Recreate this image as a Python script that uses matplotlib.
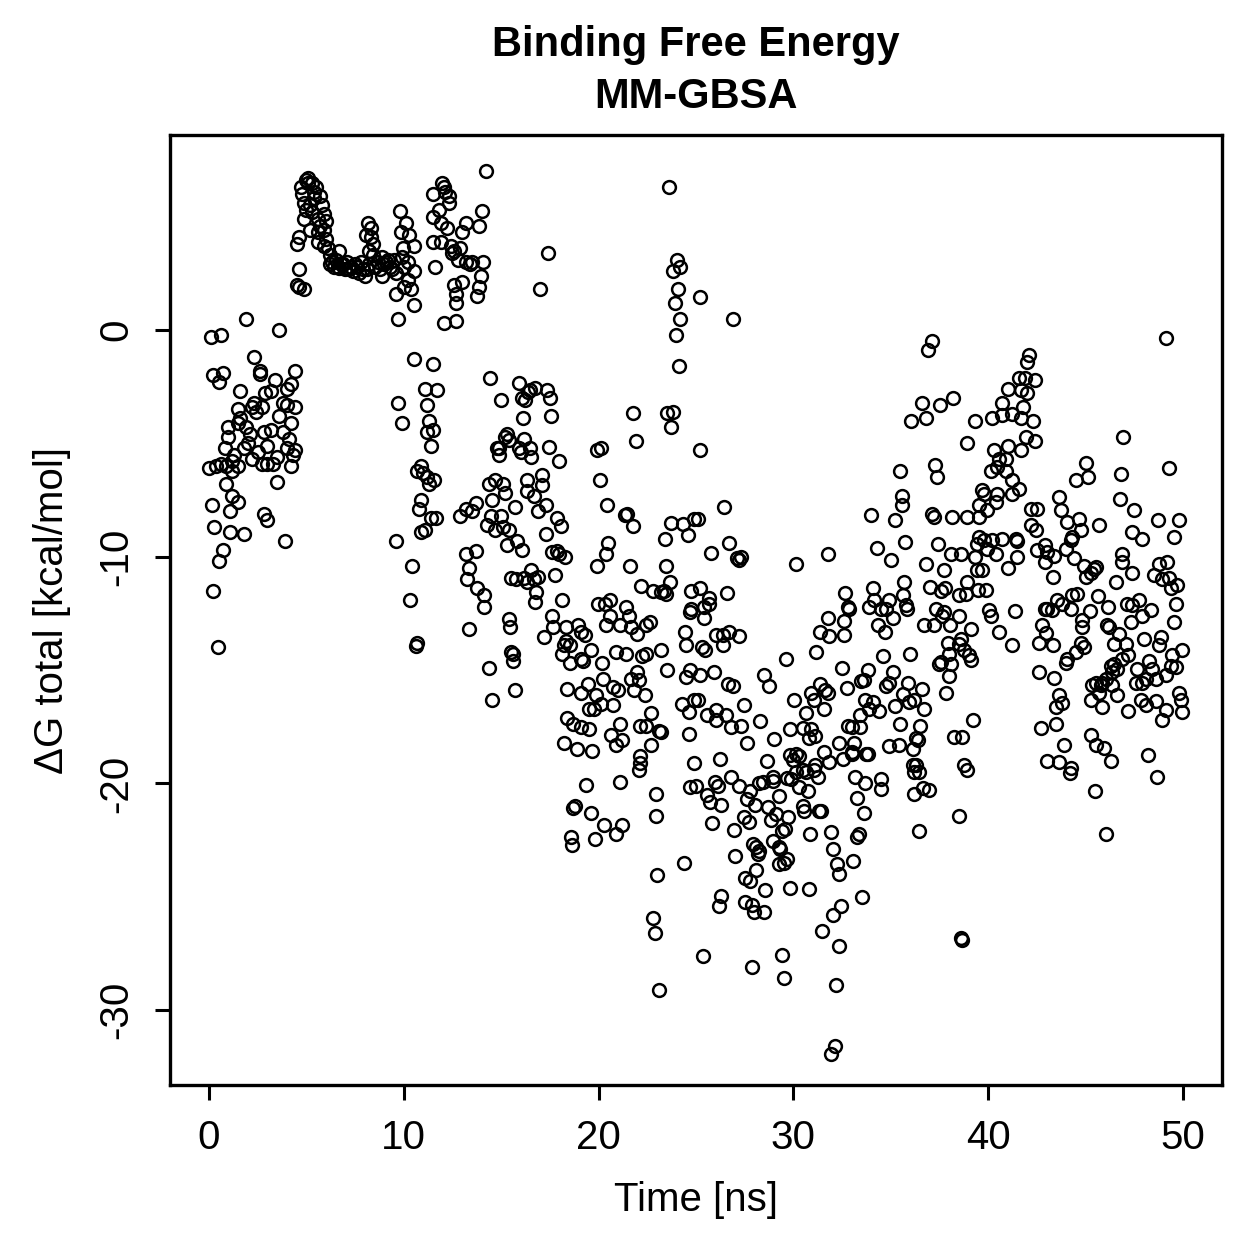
import matplotlib
matplotlib.use("Agg")
import matplotlib.pyplot as plt
import numpy as np

plt.rcParams['font.family'] = ['Liberation Sans', 'DejaVu Sans']
plt.rcParams['axes.unicode_minus'] = False

# (time [ns], dG total [kcal/mol]), grouped by stretch
seg_0_5 = [(0.1,-0.3),(0.6,-0.2),(1.9,0.5),(3.6,0.0),
    (2.3,-1.2),(2.6,-1.8),(2.6,-1.95),(4.4,-1.8),(0.2,-2.0),(0.7,-1.9),(0.5,-2.3),(1.6,-2.7),(3.4,-2.2),(4.2,-2.4),(4.0,-2.6),(3.2,-2.7),(2.9,-2.8),
    (2.3,-3.2),(2.7,-3.4),(2.2,-3.4),(1.5,-3.5),(3.8,-3.2),(4.0,-3.3),(4.4,-3.4),(4.2,-4.1),(1.6,-3.9),(1.5,-4.1),(1.0,-4.3),(1.9,-4.3),(1.0,-4.7),(2.8,-4.5),(3.2,-4.4),(3.8,-4.5),(2.0,-5.0),(0.8,-5.2),(3.0,-5.1),(4.0,-5.2),(4.4,-5.3),
    (0.0,-6.1),(0.35,-6.0),(0.9,-6.0),(1.2,-5.8),(1.5,-6.0),(2.2,-5.7),(2.7,-5.9),(3.0,-5.9),(3.3,-5.9),(4.2,-6.0),(4.3,-5.5),(0.9,-6.8),(3.5,-6.7),(1.2,-7.3),(1.5,-7.6),(0.15,-7.7),(1.1,-8.0),(2.8,-8.1),(3.0,-8.4),(0.25,-8.7),(1.1,-8.9),(1.8,-9.0),(3.9,-9.3),(0.7,-9.7),(0.5,-10.2),(0.2,-11.5),(0.45,-14.0),
    (1.3,-5.5),(1.8,-5.2),(2.5,-5.4),(3.5,-5.6),(0.6,-5.9),(2.1,-4.6),(3.6,-3.8),(2.4,-3.6),(1.2,-6.2),(4.1,-4.8)]

seg_5_10 = [(5.1,6.7),(5.1,6.5),(4.7,6.3),(5.5,6.3),(4.8,6.0),(5.4,6.1),(4.9,5.6),(5.2,5.5),(5.0,5.3),(5.3,5.2),(5.9,5.1),(4.9,4.9),(5.6,4.9),(6.0,4.8),(5.2,4.4),(5.6,4.3),(5.9,4.4),(4.6,4.1),(4.5,3.8),(5.6,3.9),(5.9,3.7),(6.1,3.6),(6.7,3.5),(4.6,2.7),(4.5,2.0),(4.6,1.9),(4.9,1.8),
    (6.2,2.9),(6.6,2.8),(6.9,2.9),(7.2,2.7),(7.5,2.9),(7.8,3.0),(8.0,2.4),(8.1,2.7),(8.4,3.3),(8.15,4.7),(8.3,4.5),(8.05,4.2),(8.3,4.1),(8.4,3.8),(8.2,3.5),(8.9,3.2),(9.1,3.0),(9.3,2.8),(9.5,3.1),(9.6,2.5),(8.9,2.4),(10.0,2.8),(9.9,3.2),(9.8,5.25),(10.1,4.7),(9.85,4.3),(10.25,4.2),(10.55,3.7),(9.95,3.6),(10.2,3.0),(10.5,2.6),(10.2,2.2),(10.0,1.9),(9.6,1.6),(10.35,1.8),(10.5,1.1),(9.7,0.5),
    (6.3,3.0),(6.4,2.8),(6.5,3.1),(6.7,2.75),(6.8,2.9),(7.0,2.7),(7.1,3.0),(7.3,2.8),(7.4,2.6),(7.6,2.8),(7.7,2.5),(7.9,2.7),(8.2,2.9),(8.5,2.8),(8.7,3.0),(8.8,2.7),(9.0,2.9),(9.2,3.1),(9.4,2.7),(5.0,6.6),(5.3,6.5),(5.7,5.9),(5.8,5.5),(5.7,4.6),(6.0,4.0),(6.2,3.3),(5.4,5.8)]

seg_10_12 = [(10.5,-1.3),(11.5,-1.5),(9.7,-3.2),(9.9,-4.1),(11.1,-2.6),(11.2,-3.3),(11.3,-4.0),(11.2,-4.5),(11.5,-4.4),(11.4,-5.1),(10.9,-6.0),(10.7,-6.2),(11.0,-6.3),(11.2,-6.5),(11.3,-6.8),(10.9,-7.5),(10.8,-7.9),(11.4,-8.3),(11.1,-8.8),(10.9,-8.9),(9.6,-9.3),(10.4,-10.4),(10.3,-11.9),(10.7,-13.8),(10.65,-13.95),(11.55,-6.6),(11.65,-8.3),(11.7,-2.65)]

seg_12_15_top = [(14.2,7.0),(11.95,6.5),(12.05,6.3),(12.3,5.9),(12.3,5.6),(11.8,5.3),(14.0,5.25),(11.9,4.7),(12.2,4.5),(13.2,4.7),(13.85,4.6),(13.0,4.3),(11.9,3.9),(12.4,3.7),(12.5,3.4),(12.9,3.6),(12.8,3.1),(13.2,3.0),(13.5,3.0),(14.05,3.0),(11.6,2.8),(13.95,2.4),(13.0,2.1),(12.6,2.0),(13.85,1.9),(12.7,1.6),(13.75,1.5),(12.7,1.2),(12.05,0.3),(12.7,0.4),(11.5,6.0),(11.5,5.0),(11.5,3.9),(12.1,6.1),(12.6,3.5),(13.4,2.9)]

seg_13_18 = [(14.45,-2.1),(15.0,-3.1),(15.9,-2.35),(16.05,-3.0),(16.4,-2.75),(16.5,-2.65),(16.75,-2.55),(17.35,-2.65),(17.5,-3.0),(17.55,-3.8),(16.1,-3.9),(15.3,-4.6),(16.15,-4.8),(15.9,-5.2),(16.5,-5.2),(14.9,-5.2),(17.45,-5.15),(15.2,-4.7),(15.4,-4.85),(14.8,-5.2),(16.2,-3.1),
    (17.95,-5.8),(14.9,-5.5),(16.0,-5.4),(16.55,-5.6),(14.35,-6.8),(14.7,-6.6),(15.1,-6.8),(15.2,-7.2),(16.3,-6.6),(17.1,-6.4),(17.1,-6.85),(16.3,-7.1),(16.7,-7.3),(15.7,-7.8),(16.9,-8.0),(17.3,-7.7),(13.7,-7.65),(13.2,-7.9),(13.5,-8.0),(12.9,-8.2),(14.55,-7.5),(14.5,-8.2),(15.0,-8.2),(14.25,-8.6),(14.7,-8.8),(15.1,-8.7),(15.4,-8.8),(17.85,-8.3),(18.05,-8.65),(17.3,-9.0),(15.8,-9.3),(15.3,-9.5),(16.05,-9.7),(13.2,-9.9),(13.7,-9.75),(13.35,-10.5),(13.25,-11.0),(13.75,-11.4),(14.1,-11.7),(14.1,-12.2),(13.35,-13.2),(14.35,-14.9),(14.55,-16.3),(15.4,-12.75),(15.45,-13.1),(15.5,-14.2),(15.6,-14.3),(15.6,-14.6),(15.7,-15.9),(15.5,-10.95),(15.75,-11.0),(16.15,-10.95),(16.3,-11.1),(16.55,-10.6),(16.9,-10.9),(16.7,-11.0),(16.8,-11.55),(16.75,-12.0),(17.75,-10.8),(17.6,-9.8),(17.85,-9.75),(17.95,-9.9),(18.3,-10.0),(18.1,-11.9),(17.6,-12.6),(17.65,-13.1),(17.2,-13.55)]

seg_18_25 = [(18.35,-13.1),(18.95,-13.0),(19.1,-13.3),(19.3,-13.45),(18.35,-13.7),(18.55,-13.9),(18.2,-13.9),(18.1,-14.3),(18.55,-14.7),(19.1,-14.5),(19.2,-14.6),(19.6,-14.1),(18.4,-15.85),(19.1,-16.0),(19.45,-15.6),(19.85,-16.1),(20.1,-16.5),(19.5,-16.7),(19.75,-16.7),(18.4,-17.1),(18.7,-17.4),(19.1,-17.5),(19.5,-17.6),(18.2,-18.2),(18.9,-18.5),(19.65,-18.55),(19.95,-12.1),(20.35,-12.1),(20.6,-11.9),(20.6,-12.6),(20.4,-13.0),(21.1,-13.0),(21.4,-12.2),(21.55,-12.6),(21.65,-13.1),(21.95,-13.4),(22.45,-13.0),(22.65,-12.9),(20.9,-14.2),(21.4,-14.3),(20.2,-14.7),(20.25,-15.4),(20.75,-15.75),(21.0,-15.9),(20.75,-16.55),(21.65,-15.4),(21.95,-15.1),(22.05,-15.45),(21.8,-15.9),(22.4,-16.1),(22.25,-14.4),(22.45,-14.3),(23.2,-14.1),(23.5,-15.0),(22.7,-16.9),(22.15,-17.45),(22.45,-17.45),(23.1,-17.7),(23.2,-17.75),(22.7,-18.3),(20.65,-17.85),(21.1,-17.4),(21.2,-18.1),(20.9,-18.3),(22.15,-18.8),(22.15,-19.1),
    (23.7,-8.5),(24.35,-8.55),(24.6,-9.05),(24.9,-8.35),(23.4,-9.2),(23.45,-10.4),(23.65,-11.1),(23.35,-11.5),(23.45,-11.65),(22.8,-11.5),(23.2,-11.55),(22.2,-11.3),(24.75,-11.5),(24.75,-12.3),(24.7,-12.45),(24.45,-13.3),(24.5,-13.9),(24.5,-15.3),(24.3,-16.5),(24.65,-16.85),(24.65,-17.8),(24.9,-16.3),(24.9,-19.1),(24.7,-15.0),
    (19.9,-5.3),(20.1,-5.2),(20.05,-6.6),(20.45,-7.7),(20.5,-9.4),(20.4,-9.9),(19.9,-10.4),(21.6,-10.4),(21.35,-8.15),(21.45,-8.1),(21.75,-8.65),(21.75,-3.65),(21.9,-4.9),(23.5,-3.65),(23.8,-3.6),(23.7,-4.3),
    (17.4,3.4),(17.0,1.8),(23.6,6.3),(24.05,3.1),(24.2,2.8),(23.8,2.6),(24.1,1.8),(23.9,1.2),(24.2,0.5),(23.95,-0.2),(24.15,-1.6),(25.2,1.45),(26.9,0.5),
    (19.35,-20.05),(21.1,-19.95),(22.05,-19.4),(22.95,-20.45),(22.95,-21.45),(24.7,-20.15),(18.8,-21.0),(18.7,-21.1),(19.6,-21.3),(20.3,-21.85),(21.2,-21.85),(20.9,-22.25),(18.6,-22.35),(18.65,-22.7),(19.8,-22.45),(24.4,-23.5),(23.0,-24.05),(22.8,-25.95),(22.9,-26.6),(23.1,-29.1)]

seg_25_38 = [(25.2,-5.3),(26.45,-7.8),(25.1,-8.35),(26.7,-9.4),(25.75,-9.85),(27.1,-10.05),(27.2,-10.15),(27.3,-10.0),(30.15,-10.3),(31.8,-9.9),(25.2,-11.4),(25.65,-11.8),(25.65,-12.1),(25.4,-12.2),(25.4,-12.7),(26.6,-11.6),(26.05,-13.45),(26.4,-13.45),(26.7,-13.3),(27.2,-13.5),(26.4,-13.9),(25.3,-14.0),(25.45,-14.1),(25.2,-15.2),(25.9,-15.1),(26.65,-15.6),(26.9,-15.7),(25.1,-16.3),(25.55,-17.0),(26.05,-16.75),(26.05,-17.2),(26.55,-17.0),(26.8,-17.5),(27.3,-17.45),(27.45,-16.55),(27.6,-18.2),(28.3,-17.25),(26.25,-18.9),(28.65,-19.0),(29.0,-18.05),(28.5,-15.2),(28.75,-15.7),(29.6,-14.5),(31.15,-14.2),(30.05,-16.3),(29.85,-17.6),(30.5,-17.55),(30.9,-17.6),(31.1,-17.9),(30.8,-18.0),(30.65,-16.9),(31.05,-16.3),(30.9,-16.0),(31.35,-15.6),(31.6,-15.9),(31.75,-16.0),(31.55,-16.7),(31.75,-12.7),(31.35,-13.3),(31.85,-13.5),(32.5,-14.9),(32.75,-15.8),(32.6,-12.85),(32.6,-13.45),(32.65,-11.6),(32.8,-12.2),(32.85,-12.3),(33.45,-15.5),(33.6,-15.45),(33.85,-15.0),(33.65,-16.3),(34.1,-16.4),(33.9,-16.7),(34.4,-16.8),(33.4,-17.0),(32.8,-17.45),(33.0,-17.5),(33.4,-17.5),(33.1,-18.2),(32.35,-18.2),(33.0,-18.6),(33.85,-18.7),(34.35,-13.0),(34.7,-13.3),(34.75,-12.3),(34.9,-11.9),(34.5,-12.3),(34.15,-11.9),(34.1,-11.4),(33.9,-12.2),(35.1,-12.7),(34.0,-8.15),(34.3,-9.6),(35.0,-10.15),(35.2,-8.4),(35.45,-6.2),(35.55,-7.3),(35.55,-7.7),(35.75,-9.35),(35.7,-11.1),(35.6,-11.7),(35.8,-12.15),(35.85,-12.3),(34.6,-14.4),(36.0,-14.3),(35.1,-15.1),(34.9,-15.55),(34.75,-15.7),(35.9,-15.55),(35.65,-16.05),(36.6,-15.85),(35.95,-16.4),(36.2,-16.3),(35.2,-16.6),(36.7,-16.7),(35.45,-17.4),(36.5,-17.45),(36.3,-18.0),(36.4,-18.1),(36.15,-18.5),(34.9,-18.35),(35.4,-18.3),(36.8,-10.3),(37.0,-11.35),(37.3,-12.3),(36.7,-13.0),(37.2,-13.0),(37.1,-8.1),(37.2,-8.25),(37.25,-5.95),(37.35,-6.5),(37.4,-9.45),(37.75,-10.6),(37.8,-11.4),(37.6,-11.5),(38.1,-9.9),(38.15,-8.25),(37.65,-12.6),(38.05,-13.0),(37.75,-12.45),(37.95,-13.8),(38.0,-14.3),(37.6,-14.65),(38.1,-14.75),(37.45,-14.75),(38.0,-15.25),(37.85,-16.0),(38.25,-17.95),(36.3,-19.2),
    (29.8,-18.75),(30.15,-18.7),(30.3,-18.8),(30.0,-18.95),(31.55,-18.6),(31.85,-19.05),(32.55,-18.9),(33.0,-18.7),(33.75,-18.7),(31.1,-19.2),(36.15,-19.2),
    (37.1,-0.5),(36.9,-0.9),(36.6,-3.2),(36.05,-4.0),(36.8,-3.9),(37.5,-3.3),(38.2,-3.0)]

seg_25_38_low = [(25.0,-20.1),(25.95,-19.95),(26.15,-20.1),(26.8,-19.7),(27.2,-20.1),(25.55,-20.5),(25.7,-20.8),(26.3,-20.95),(27.6,-20.7),(27.75,-20.35),(28.05,-20.95),(28.25,-20.0),(28.45,-19.95),(28.95,-19.7),(28.95,-19.9),(29.25,-20.55),(29.65,-19.75),(29.9,-19.8),(30.15,-19.5),(30.3,-20.15),(30.5,-19.4),(30.65,-19.5),(30.75,-20.35),(31.05,-19.4),(31.25,-19.7),(27.45,-21.5),(27.7,-21.7),(28.7,-21.05),(28.85,-21.6),(29.1,-21.35),(29.7,-21.5),(30.5,-21.0),(30.55,-21.2),(31.3,-21.2),(25.8,-21.75),(26.95,-22.05),(29.4,-22.1),(29.55,-22.0),(27.95,-22.65),(28.1,-22.8),(28.25,-23.0),(28.2,-23.1),(28.95,-22.55),(29.25,-22.8),(29.3,-22.9),(29.25,-23.55),(29.5,-23.5),(29.65,-23.35),(27.0,-23.2),(27.5,-24.15),(27.75,-24.3),(28.1,-23.8),(28.55,-24.7),(29.8,-24.6),(30.8,-24.65),(26.3,-24.95),(26.2,-25.4),(27.5,-25.25),(27.85,-25.35),(28.0,-25.65),(28.5,-25.65),(25.35,-27.6),(27.9,-28.1),(29.4,-27.55),(29.5,-28.6),(30.85,-22.25),(31.95,-22.15),(32.05,-22.9),(32.25,-23.55),(32.35,-24.0),(33.05,-23.4),(33.25,-22.35),(33.35,-22.25),(33.6,-21.3),(33.25,-20.65),(33.15,-19.7),(33.7,-20.0),(34.5,-19.8),(34.5,-20.25),(31.4,-21.2),(33.5,-25.0),(32.45,-25.4),(32.05,-25.8),(31.45,-26.5),(32.35,-27.15),(32.2,-28.9),(32.15,-31.6),(31.95,-31.95),(36.2,-19.5),(36.45,-19.5),(36.2,-20.45),(36.65,-20.2),(36.95,-20.3),(36.45,-22.1),(38.5,-21.45),(38.6,-26.8),(38.65,-26.9)]

seg_38_50 = [(49.1,-0.35),(42.1,-1.1),(42.0,-1.4),(41.6,-2.1),(41.9,-2.1),(42.4,-2.2),(41.0,-2.6),(41.7,-2.65),(42.0,-2.8),(40.7,-3.2),(41.8,-3.4),(40.2,-3.9),(40.7,-3.75),(41.2,-3.7),(41.7,-3.9),(42.3,-4.0),(39.3,-4.0),(41.95,-4.7),(42.4,-4.9),(38.9,-5.0),(41.0,-5.1),(40.3,-5.3),(41.7,-5.3),(46.9,-4.7),
    (40.55,-5.7),(40.9,-5.7),(40.15,-6.2),(40.45,-6.05),(40.9,-6.2),(41.2,-6.6),(41.6,-7.0),(41.2,-7.25),(39.7,-7.05),(39.8,-7.25),(40.45,-7.25),(40.4,-7.6),(39.95,-7.95),(39.55,-7.7),(38.9,-8.25),(39.55,-8.25),(45.0,-5.85),(45.1,-6.5),(44.5,-6.6),(46.8,-6.35),(49.3,-6.1),(43.65,-7.35),(43.75,-7.95),(44.05,-8.45),(44.65,-8.35),(44.75,-8.8),(44.3,-9.15),(44.25,-9.25),(44.0,-9.65),(44.4,-10.05),(42.2,-7.9),(42.5,-7.9),(42.2,-8.6),(42.45,-8.8),(45.7,-8.6),(46.75,-7.45),(47.5,-7.95),(47.4,-8.9),(47.9,-9.2),(48.7,-8.4),(49.8,-8.4),(49.55,-9.15),
    (39.55,-9.15),(39.8,-9.25),(40.2,-9.25),(40.7,-9.2),(41.45,-9.2),(41.5,-9.3),(39.4,-9.45),(39.95,-9.65),(40.4,-9.9),(39.3,-10.0),(41.5,-10.0),(41.0,-10.5),(38.6,-9.9),(38.9,-11.1),(39.4,-10.6),(39.7,-10.6),(39.45,-11.45),(39.9,-11.45),(38.85,-11.65),(42.5,-9.7),(42.9,-9.5),(43.0,-9.8),(42.9,-10.25),(43.4,-9.95),(43.3,-10.9),(44.9,-10.4),(45.0,-10.9),(45.3,-10.7),(45.45,-10.55),(45.55,-10.45),(46.85,-9.9),(46.85,-10.25),(47.4,-10.7),(46.55,-11.1),(48.75,-10.3),(49.2,-10.25),(48.5,-10.8),(48.9,-11.0),(49.3,-10.95),(49.7,-11.25),(49.4,-11.4),
    (38.5,-11.7),(38.5,-12.6),(39.1,-13.2),(38.6,-13.65),(38.5,-13.85),(38.75,-14.1),(39.0,-14.35),(39.1,-14.55),(39.2,-17.2),(38.65,-17.95),(38.75,-19.2),(40.05,-12.35),(40.15,-12.6),(41.35,-12.4),(40.55,-13.3),(41.2,-13.9),(43.55,-11.9),(43.8,-12.1),(44.25,-12.3),(44.3,-11.7),(44.55,-11.65),(45.2,-12.4),(43.0,-12.3),(43.25,-12.35),(42.9,-12.3),(42.75,-13.0),(42.95,-13.35),(42.6,-13.8),(43.3,-13.9),(44.8,-12.8),(44.8,-13.1),(44.75,-13.8),(44.9,-14.0),(44.5,-14.2),(44.05,-14.5),(44.0,-14.7),(45.65,-11.75),(46.15,-12.2),(46.1,-13.0),(46.2,-13.1),(46.7,-13.4),(46.45,-13.85),(47.05,-13.85),(47.2,-14.35),(46.85,-14.5),(47.1,-12.1),(47.4,-12.15),(47.75,-11.9),(47.9,-12.6),(47.35,-12.9),(48.35,-12.35),(48.85,-13.55),(48.0,-13.65),(48.75,-13.9),(49.55,-12.9),(49.65,-12.1),(49.95,-14.1),(49.45,-14.35),
    (46.3,-14.8),(46.45,-14.75),(46.6,-14.95),(46.35,-15.1),(46.05,-15.4),(45.85,-15.55),(45.55,-15.55),(45.35,-15.65),(45.8,-15.65),(45.7,-16.0),(46.35,-15.65),(46.6,-16.1),(45.3,-16.3),(45.85,-16.65),(47.65,-14.95),(47.6,-15.55),(47.9,-15.55),(48.25,-14.6),(48.4,-14.95),(48.6,-15.4),(48.1,-15.4),(47.85,-16.3),(48.1,-16.55),(48.6,-16.35),(47.2,-16.8),(49.1,-16.75),(48.9,-17.2),(49.8,-16.0),(49.9,-16.3),(49.95,-16.85),(49.15,-15.2),(49.4,-14.8),(49.65,-14.85),
    (42.6,-15.1),(43.4,-15.35),(43.65,-16.1),(43.8,-16.45),(43.5,-16.65),(42.7,-17.55),(43.5,-17.4),(43.9,-18.3),(43.0,-19.0),(43.65,-19.05),(44.25,-19.3),(45.3,-17.85),(45.55,-18.3),(45.95,-18.45),(46.3,-19.0),(48.2,-18.75),(38.9,-19.4),(44.2,-19.55),(45.5,-20.35),(48.65,-19.7),(46.05,-22.25)]

segments = [seg_0_5, seg_5_10, seg_10_12, seg_12_15_top, seg_13_18,
            seg_18_25, seg_25_38, seg_25_38_low, seg_38_50]
pts = np.array([p for s in segments for p in s])
time_ns = pts[:, 0]
dg_total = pts[:, 1]

W = 1259
fig = plt.figure(figsize=(W / 200, W / 200), dpi=200)
ax = fig.add_axes([170 / W, 1 - 1085 / W, (1222 - 170) / W, (1085 - 135) / W])

ax.plot(time_ns, dg_total, 'o', ls='none', mfc='none', mec='black', ms=4.6, mew=0.9)

ax.set_xlim(-2, 52)
ax.set_ylim(-33.3, 8.6)
ax.set_xticks([0, 10, 20, 30, 40, 50])
ax.set_yticks([-30, -20, -10, 0])
ax.tick_params(direction='out', length=5.4, width=1.1, labelsize=14.5, pad=7)
for lab in ax.get_yticklabels():
    lab.set_rotation(90)
    lab.set_va('center')
for sp in ax.spines.values():
    sp.set_linewidth(1.2)

fig.text(696 / W, 1 - 1200 / W, 'Time [ns]', ha='center', va='center', fontsize=14.5)
fig.text(52 / W, 1 - 610 / W, 'ΔG total [kcal/mol]', ha='center', va='center',
         rotation=90, fontsize=14.5)
fig.text(696 / W, 1 - 45 / W, 'Binding Free Energy', ha='center', va='center',
         fontsize=15, fontweight='bold')
fig.text(696 / W, 1 - 97 / W, 'MM-GBSA', ha='center', va='center',
         fontsize=15, fontweight='bold')

fig.savefig('out.png', dpi=200, facecolor='white')
